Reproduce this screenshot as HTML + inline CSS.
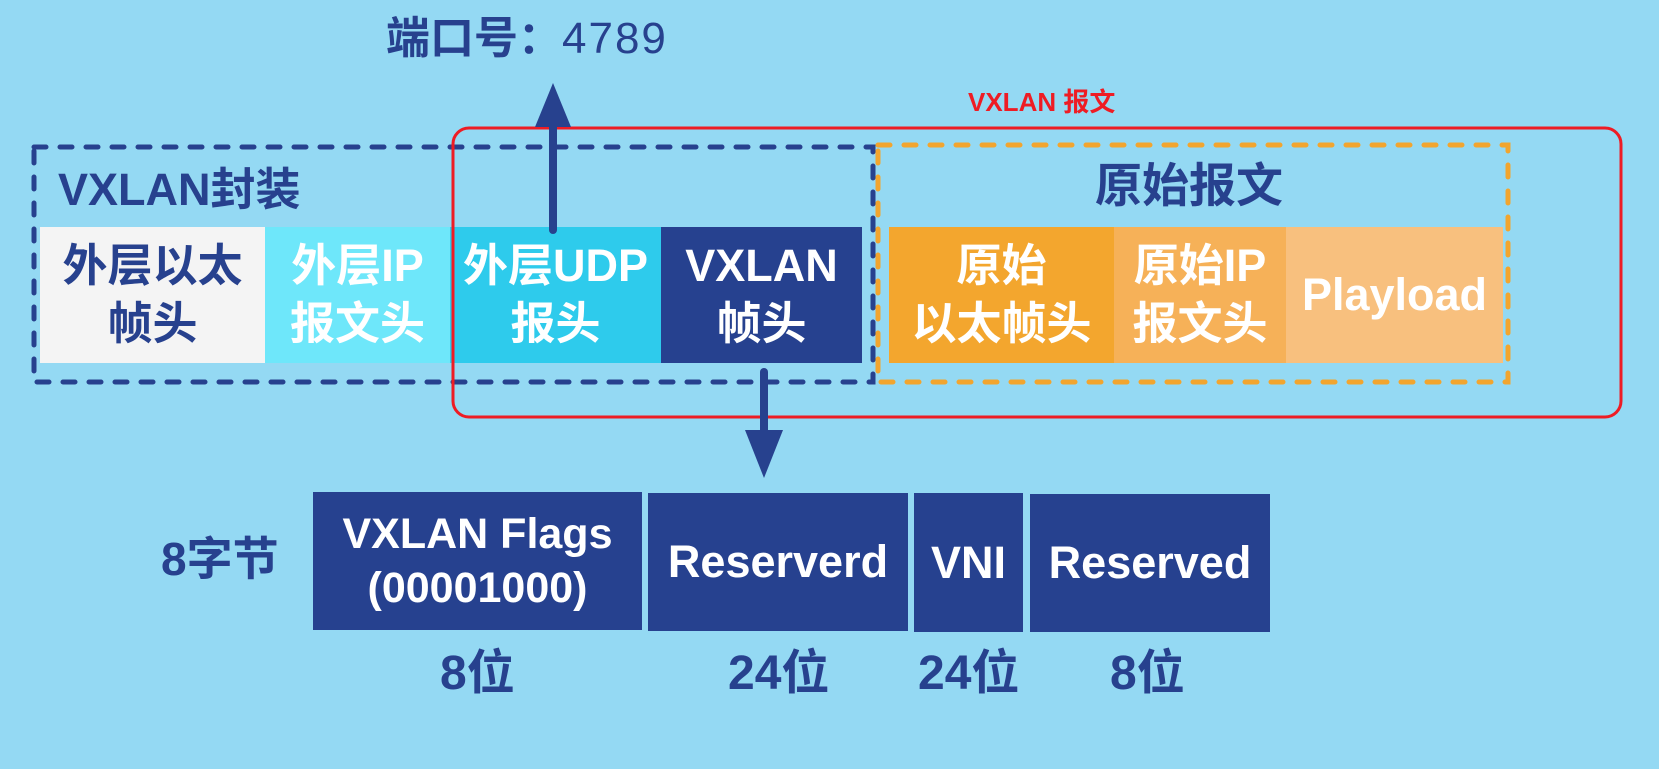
<!DOCTYPE html>
<html><head><meta charset="utf-8"><style>
html,body{margin:0;padding:0}
body{width:1659px;height:769px;background:#94d9f3;position:relative;overflow:hidden;font-family:"Liberation Sans","Noto Sans CJK SC",sans-serif;font-weight:bold}
.a{position:absolute}
.c{position:absolute;display:flex;align-items:center;justify-content:center;text-align:center;font-size:45px;line-height:58px;color:#fff;white-space:nowrap}
.t{position:absolute;color:#27418e;white-space:nowrap}
</style></head><body>
<div class="t" style="left:386px;top:12px;font-size:44px;line-height:54px">端口号：<span style="font-weight:normal;letter-spacing:2px">4789</span></div>
<div class="t" style="left:968px;top:82px;font-size:26px;color:#ee1c24">VXLAN 报文</div>

<svg class="a" style="left:0;top:0" width="1659" height="769">
<rect x="34" y="147" width="839" height="235" fill="none" stroke="#27418e" stroke-width="5" stroke-dasharray="12 14" stroke-linecap="round"/>
<rect x="878" y="145" width="630" height="237" fill="none" stroke="#f2a52e" stroke-width="5" stroke-dasharray="12 14" stroke-linecap="round"/>
</svg>

<div class="t" style="left:58px;top:164px;font-size:45px;line-height:52px">VXLAN封装</div>
<div class="t" style="left:1095px;top:160px;font-size:47px;line-height:52px">原始报文</div>

<div class="c" style="left:40px;top:227px;width:225px;height:136px;background:#f4f4f4;color:#27418e">外层以太<br>帧头</div>
<div class="c" style="left:265px;top:227px;width:185px;height:136px;background:#6ee7fa">外层IP<br>报文头</div>
<div class="c" style="left:450px;top:227px;width:211px;height:136px;background:#2ecbec">外层UDP<br>报头</div>
<div class="c" style="left:661px;top:227px;width:201px;height:136px;background:#26418f">VXLAN<br>帧头</div>
<div class="c" style="left:889px;top:227px;width:225px;height:136px;background:#f3a62e">原始<br>以太帧头</div>
<div class="c" style="left:1114px;top:227px;width:172px;height:136px;background:#f6b158">原始IP<br>报文头</div>
<div class="c" style="left:1286px;top:227px;width:217px;height:136px;background:#f8c07e">Playload</div>

<svg class="a" style="left:0;top:0" width="1659" height="769">
<rect x="453" y="128" width="1168" height="289" rx="16" fill="none" stroke="#ee1c24" stroke-width="3"/>
<line x1="553" y1="230" x2="553" y2="120" stroke="#27418e" stroke-width="8" stroke-linecap="round"/>
<polygon points="553,83 535,127 571,127" fill="#27418e"/>
<line x1="764" y1="372" x2="764" y2="440" stroke="#27418e" stroke-width="8" stroke-linecap="round"/>
<polygon points="764,478 745,430 783,430" fill="#27418e"/>
</svg>

<div class="c" style="left:313px;top:492px;width:329px;height:138px;background:#26418f;line-height:54px;font-size:43px">VXLAN Flags<br>(00001000)</div>
<div class="c" style="left:648px;top:493px;width:260px;height:138px;background:#26418f">Reserverd</div>
<div class="c" style="left:914px;top:493px;width:109px;height:139px;background:#26418f">VNI</div>
<div class="c" style="left:1030px;top:494px;width:240px;height:138px;background:#26418f">Reserved</div>

<div class="t" style="left:161px;top:533px;font-size:46px;line-height:52px">8字节</div>
<div class="t" style="left:440px;top:646px;font-size:48px;line-height:56px">8位</div>
<div class="t" style="left:728px;top:646px;font-size:48px;line-height:56px">24位</div>
<div class="t" style="left:918px;top:646px;font-size:48px;line-height:56px">24位</div>
<div class="t" style="left:1110px;top:646px;font-size:48px;line-height:56px">8位</div>
</body></html>
